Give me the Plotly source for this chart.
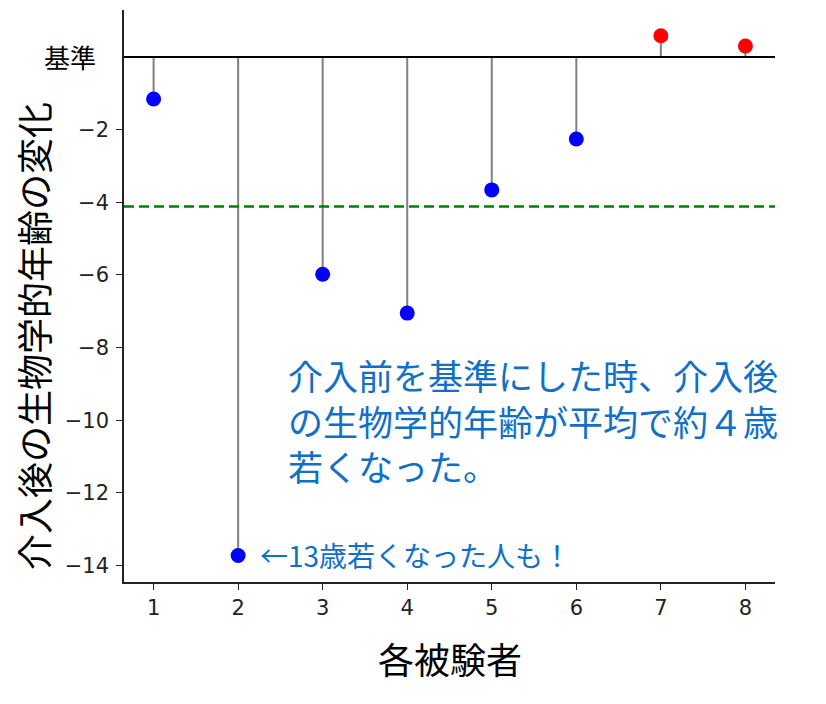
import numpy as np
import plotly.graph_objects as go

# 各被験者の生物学的年齢の変化（介入前 = 0）
subjects = [1, 2, 3, 4, 5, 6, 7, 8]
changes = [-1.16, -13.72, -5.98, -7.05, -3.66, -2.26, 0.58, 0.30]

y_ticks = [-14, -12, -10, -8, -6, -4, -2]
y_tick_text = ["−14", "−12", "−10", "−8", "−6", "−4", "−2"]

mean_change = float(np.mean(changes))
colors = ["#0000ff" if v < 0 else "#ff0000" for v in changes]

# 棒（ステム）
stem_x, stem_y = [], []
for s, v in zip(subjects, changes):
    stem_x += [s, s, None]
    stem_y += [0, v, None]

fig = go.Figure()
fig.add_trace(go.Scatter(x=stem_x, y=stem_y, mode="lines",
                         line=dict(color="#808080", width=2), hoverinfo="skip"))
fig.add_trace(go.Scatter(x=subjects, y=changes, mode="markers",
                         marker=dict(color=colors, size=15)))

# 基準線と平均線
fig.add_hline(y=0, line=dict(color="black", width=2))
fig.add_hline(y=mean_change, line=dict(color="#008000", width=2.5, dash="10px,5px"))

jp = "Noto Sans CJK JP"
note_color = "#1070c8"

fig.add_annotation(x=2.57, y=-10.0, xanchor="left", yanchor="middle",
                   text="介入前を基準にした時、介入後<br>の生物学的年齢が平均で約４歳<br>若くなった。",
                   showarrow=False, align="left",
                   font=dict(family=jp, size=35, color=note_color))
fig.add_annotation(x=2.235, y=changes[1], xanchor="left", yanchor="middle",
                   text="←13歳若くなった人も！", showarrow=False,
                   font=dict(family=jp, size=28, color=note_color))

# 軸タイトル・基準ラベル
fig.add_annotation(xref="paper", yref="y", x=-0.04, y=0, xanchor="right",
                   yanchor="middle", text="基準", showarrow=False,
                   font=dict(family=jp, size=26, color="black"))
fig.add_annotation(xref="paper", yref="paper", x=-0.14, y=0.43, xanchor="center",
                   yanchor="middle", textangle=-90,
                   text="介入後の生物学的年齢の変化", showarrow=False,
                   font=dict(family=jp, size=36, color="black"))
fig.add_annotation(xref="paper", yref="paper", x=0.5, y=-0.133, xanchor="center",
                   yanchor="middle", text="各被験者", showarrow=False,
                   font=dict(family=jp, size=36, color="black"))

fig.update_layout(
    width=826, height=704,
    margin=dict(l=116, r=59, t=2, b=130),
    plot_bgcolor="white", paper_bgcolor="white",
    showlegend=False,
    font=dict(family="DejaVu Sans", size=21, color="#222222"),
)
tick_font = dict(family="DejaVu Sans", size=21, color="#222222")
fig.update_xaxes(range=[0.65, 8.35], tickvals=subjects, showgrid=False,
                 zeroline=False, showline=True, linecolor="#222222", linewidth=1.5,
                 ticks="outside", ticklen=6, tickcolor="#222222", tickfont=tick_font,
                 ticklabelstandoff=0)
fig.update_yaxes(range=[-14.45, 1.29], tickvals=y_ticks, ticktext=y_tick_text,
                 showgrid=False, zeroline=False, showline=True, linecolor="#222222",
                 linewidth=1.5, ticks="outside", ticklen=6, tickcolor="#222222",
                 tickfont=tick_font, ticklabelstandoff=3)

fig.write_html("out.html")
